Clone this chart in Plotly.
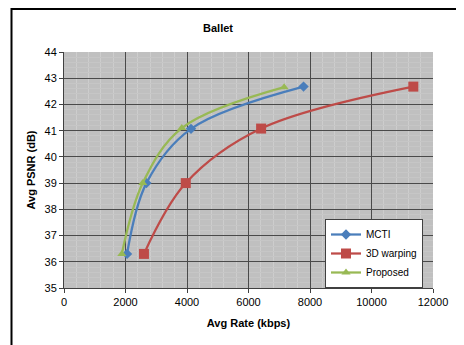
import plotly.graph_objects as go

mcti_x = [2050, 2680, 4130, 7790]
mcti_y = [36.3, 39.0, 41.07, 42.68]
warp_x = [2600, 3960, 6410, 11360]
warp_y = [36.3, 39.0, 41.08, 42.68]
prop_x = [1880, 2560, 3830, 7160]
prop_y = [36.3, 39.0, 41.1, 42.66]

FONT = "Liberation Sans, Arial, sans-serif"

# page body has an 8px margin, so the figure is placed at (8, 8)
W, H = 456, 337
PL, PR, PT, PB = 64, 433, 52, 288  # absolute plot-area pixel edges in window
OFF = 8

fig = go.Figure()
fig.add_trace(go.Scatter(x=mcti_x, y=mcti_y, name="MCTI", mode="lines+markers",
                         line=dict(color="#4a7ebb", width=2.25, shape="spline", smoothing=1.0),
                         marker=dict(symbol="diamond", size=8, color="#4a7ebb")))
fig.add_trace(go.Scatter(x=warp_x, y=warp_y, name="3D warping", mode="lines+markers",
                         line=dict(color="#be4b48", width=2.25, shape="spline", smoothing=1.0),
                         marker=dict(symbol="square", size=10, color="#be4b48")))
fig.add_trace(go.Scatter(x=prop_x, y=prop_y, name="Proposed", mode="lines+markers",
                         line=dict(color="#98b954", width=2.25, shape="spline", smoothing=1.0),
                         marker=dict(symbol="triangle-up", size=8, color="#98b954")))

pw = PR - PL
ph = PB - PT

fig.update_layout(
    width=W, height=H,
    margin=dict(l=PL - OFF, r=W + OFF - PR, t=PT - OFF, b=H + OFF - PB, autoexpand=False),
    paper_bgcolor="white", plot_bgcolor="#c0c0c0",
    font=dict(family=FONT, size=11, color="black"),
    title=dict(text="<b>Ballet</b>", x=(218 - PL) / pw, xref="paper", xanchor="center",
               y=1 - (28 - OFF) / H, yanchor="middle", font=dict(size=11)),
    showlegend=True,
    legend=dict(x=(325 - PL) / pw, y=(PB - 219) / ph, xanchor="left", yanchor="top",
                bgcolor="white", bordercolor="#404040", borderwidth=1,
                font=dict(size=10), tracegroupgap=0, itemwidth=30),
    xaxis=dict(range=[0, 12000], dtick=2000, tick0=0, tickformat="d",
               title=dict(text="<b>Avg Rate (kbps)</b>", standoff=12, font=dict(size=11)),
               showgrid=True, gridcolor="#4a4a4a", gridwidth=1,
               minor=dict(dtick=400, showgrid=True, gridcolor="#cdcdcd", gridwidth=1),
               showline=True, linecolor="#404040", linewidth=1, automargin=False,
               ticks="outside", ticklen=4, tickcolor="#404040", zeroline=False),
    yaxis=dict(range=[35, 44], dtick=1, tick0=35,
               title=dict(text="<b>Avg PSNR (dB)</b>", standoff=6, font=dict(size=11)),
               showgrid=True, gridcolor="#4a4a4a", gridwidth=1,
               minor=dict(dtick=0.2, showgrid=True, gridcolor="#c6c6c6", gridwidth=1),
               showline=True, linecolor="#404040", linewidth=1, automargin=False,
               ticks="outside", ticklen=4, tickcolor="#404040", zeroline=False),
    shapes=[dict(type="rect", xref="paper", yref="paper",
                 x0=(11.5 - PL) / pw, x1=(470 - PL) / pw,
                 y0=(PB - 352) / ph, y1=(PB - 9) / ph,
                 line=dict(color="black", width=2), fillcolor="rgba(0,0,0,0)", layer="below")],
)

fig.write_html("out.html")
